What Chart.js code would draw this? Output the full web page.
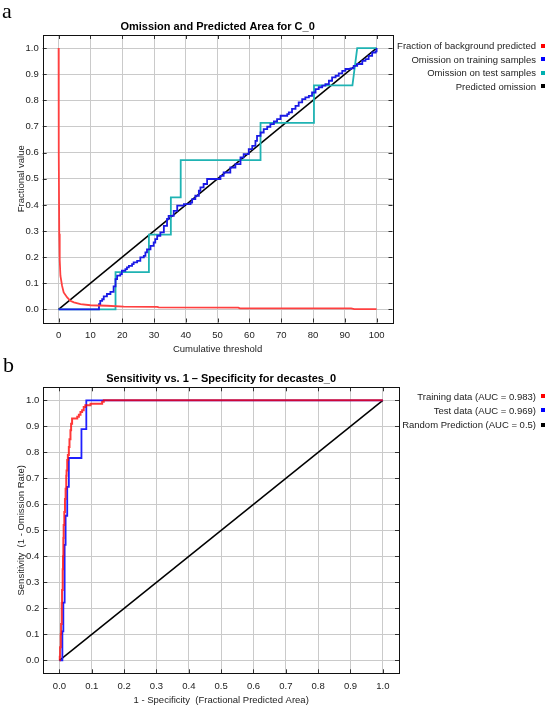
<!DOCTYPE html>
<html><head><meta charset="utf-8">
<script src="https://cdn.jsdelivr.net/npm/chart.js@4.4.1/dist/chart.umd.min.js"></script>
<style>
html,body{margin:0;padding:0;background:#fff;}
body{width:550px;height:710px;position:relative;overflow:hidden;font-family:"Liberation Sans",Arial,sans-serif;}
canvas{position:absolute;left:0;}
#c1{top:0}#c2{top:355px}
.panel{position:absolute;font-family:"Liberation Serif","Times New Roman",serif;font-size:22px;line-height:22px;color:#000;z-index:2;}
.leg{position:absolute;right:14px;font-size:9.5px;line-height:12px;color:#222;white-space:nowrap;font-family:"Liberation Sans",Arial,sans-serif;}
.sq{position:absolute;left:541px;width:4px;height:4px;}
</style></head><body>
<canvas id="c1" width="550" height="355"></canvas>
<canvas id="c2" width="550" height="355"></canvas>
<div class="panel" style="left:2px;top:0px">a</div>
<div class="panel" style="left:3px;top:354px">b</div>
<div id="legends"></div>
<script>
// ---------- Panel a: Omission and Predicted Area ----------
const xTicksA = [0,10,20,30,40,50,60,70,80,90,100];
const yTicks = [0,0.1,0.2,0.3,0.4,0.5,0.6,0.7,0.8,0.9,1.0];

const bgFracX = [0,0,0.1,0.2,0.3,0.4,0.57,1.1,1.6,2.7,3.7,4.8,6.9,10,15.2,20.5,31,31.5,56.5,57,92,93,100];
const bgFracY = [1.0,0.75,0.6,0.29,0.28,0.19,0.129,0.090,0.065,0.046,0.033,0.027,0.020,0.016,0.014,0.011,0.010,0.008,0.007,0.004,0.004,0.001,0.001];

const omTrainX = [0,12.6,12.7,13.1,13.7,14.2,15.2,16.3,17.3,17.9,18.4,19.4,19.9,21.0,21.5,22.1,23.1,23.6,24.7,25.7,26.8,27.3,27.8,28.9,29.9,30.4,31.0,32.0,33.1,34.1,34.6,36.2,37.3,39.4,41.5,42.0,43.0,44.1,44.6,45.6,46.7,49.3,50.9,51.9,54.0,55.6,57.2,58.2,59.8,60.9,61.9,62.4,63.5,64.5,65.6,66.6,67.7,68.7,69.8,71.9,72.4,73.4,74.5,75.5,76.6,77.6,78.7,79.7,80.8,81.8,82.9,83.9,85.0,86.0,87.1,88.1,89.2,90.2,91.8,92.8,93.9,95.5,96.5,97.5,98.6,99.7,100];
const omTrainY = [0,0,0.02,0.033,0.039,0.050,0.059,0.067,0.088,0.116,0.129,0.135,0.148,0.154,0.161,0.167,0.173,0.180,0.186,0.199,0.205,0.218,0.230,0.243,0.256,0.269,0.282,0.295,0.320,0.346,0.358,0.377,0.397,0.403,0.409,0.422,0.435,0.454,0.467,0.480,0.499,0.499,0.511,0.524,0.543,0.556,0.582,0.594,0.613,0.626,0.645,0.664,0.677,0.690,0.699,0.709,0.719,0.728,0.741,0.747,0.754,0.767,0.779,0.792,0.805,0.811,0.817,0.830,0.843,0.850,0.856,0.862,0.875,0.888,0.894,0.903,0.913,0.920,0.922,0.932,0.939,0.951,0.958,0.970,0.983,0.987,1.0];

const omTestX = [0,17.9,17.9,28.4,28.4,35.3,35.3,38.4,38.4,63.5,63.5,80.3,80.3,92.4,93.9,100];
const omTestY = [0,0,0.143,0.143,0.286,0.286,0.429,0.429,0.571,0.571,0.714,0.714,0.857,0.857,1.0,1.0];

const predOmX = [0,100];
const predOmY = [0,1];

const labelsA = ['Fraction of background predicted','Omission on training samples','Omission on test samples','Predicted omission'];

// ---------- Panel b: ROC ----------
const xTicksB = [0,0.1,0.2,0.3,0.4,0.5,0.6,0.7,0.8,0.9,1.0];

const rocTrainX = [0,0.001,0.002,0.004,0.005,0.007,0.008,0.010,0.011,0.012,0.013,0.015,0.017,0.019,0.021,0.022,0.024,0.026,0.029,0.031,0.034,0.036,0.039,0.055,0.060,0.065,0.070,0.075,0.080,0.096,0.132,0.137,1.0];
const rocTrainY = [0,0.014,0.05,0.10,0.14,0.22,0.27,0.35,0.40,0.47,0.52,0.57,0.62,0.66,0.71,0.73,0.77,0.79,0.82,0.85,0.885,0.91,0.93,0.937,0.944,0.955,0.962,0.974,0.981,0.987,0.994,1.0,1.0];

const rocTestX = [0,0.009,0.009,0.012,0.012,0.016,0.016,0.019,0.019,0.024,0.024,0.029,0.029,0.068,0.068,0.083,0.083,1.0];
const rocTestY = [0,0,0.111,0.111,0.222,0.222,0.444,0.444,0.556,0.556,0.667,0.667,0.778,0.778,0.889,0.889,1.0,1.0];

const randX = [0,1];
const randY = [0,1];

const labelsB = ['Training data (AUC = 0.983)','Test data (AUC = 0.969)','Random Prediction (AUC = 0.5)'];

// ---------- helpers ----------
const pts = (xs, ys) => xs.map((x, i) => ({x: x, y: ys[i]}));
const FONT = '"Liberation Sans", Arial, sans-serif';

const framePlugin = {
  id: 'frame',
  afterDraw(chart) {
    const {ctx, chartArea: a, scales: {x, y}} = chart;
    ctx.save();
    ctx.strokeStyle = '#333';
    ctx.lineWidth = 1;
    ctx.beginPath();
    x.ticks.forEach(t => {
      const p = Math.round(x.getPixelForValue(t.value)) + 0.5;
      ctx.moveTo(p, a.top); ctx.lineTo(p, a.top + 4);
      ctx.moveTo(p, a.bottom); ctx.lineTo(p, a.bottom - 4);
    });
    y.ticks.forEach(t => {
      const p = Math.round(y.getPixelForValue(t.value)) + 0.5;
      ctx.moveTo(a.left, p); ctx.lineTo(a.left + 4, p);
      ctx.moveTo(a.right, p); ctx.lineTo(a.right - 4, p);
    });
    ctx.stroke();
    ctx.strokeStyle = '#111';
    ctx.strokeRect(Math.round(a.left) + 0.5, Math.round(a.top) + 0.5, Math.round(a.right - a.left), Math.round(a.bottom - a.top));
    ctx.restore();
  }
};

function makeChart(id, cfg) {
  return new Chart(document.getElementById(id), {
    type: 'line',
    data: {datasets: cfg.datasets},
    options: {
      responsive: false,
      animation: false,
      events: [],
      layout: {padding: {left: 0, right: cfg.padRight, top: 0, bottom: 0}},
      plugins: {
        legend: {display: false},
        tooltip: {enabled: false},
        title: {
          display: true, text: cfg.title, fullSize: false, color: '#000',
          font: {family: FONT, size: 11, weight: 'bold', lineHeight: 1.2},
          padding: {top: cfg.titlePadTop, bottom: cfg.titlePadBottom}
        }
      },
      elements: {point: {radius: 0}, line: {tension: 0}},
      scales: {
        x: {
          type: 'linear', min: cfg.xMin, max: cfg.xMax,
          afterBuildTicks: s => { s.ticks = cfg.xTicks.map(v => ({value: v})); },
          afterFit: s => { s.height = cfg.xAxisHeight; },
          ticks: {color: '#222', font: {family: FONT, size: 9.5, lineHeight: 1.2}, padding: cfg.xTickPad, maxRotation: 0, autoSkip: false,
                  callback: cfg.xFmt},
          grid: {color: '#cacaca', lineWidth: 1, drawTicks: false},
          border: {display: false},
          title: {display: true, text: cfg.xTitle, color: '#222', font: {family: FONT, size: 9.5, lineHeight: 1.2}, padding: {top: 0, bottom: cfg.xTitlePadBottom}}
        },
        y: {
          type: 'linear', min: -0.05, max: 1.05,
          afterBuildTicks: s => { s.ticks = yTicks.map(v => ({value: v})); },
          afterFit: s => { s.width = cfg.yAxisWidth; },
          ticks: {color: '#222', font: {family: FONT, size: 9.5, lineHeight: 1.2}, padding: 4, autoSkip: false,
                  callback: v => v.toFixed(1)},
          grid: {color: '#cacaca', lineWidth: 1, drawTicks: false},
          border: {display: false},
          title: {display: true, text: cfg.yTitle, color: '#222', font: {family: FONT, size: 9.5, lineHeight: 1.2}, padding: {top: cfg.yTitlePadTop, bottom: 0}}
        }
      }
    },
    plugins: [framePlugin]
  });
}

const colorsA = ['#ff4040', '#1a1ae6', '#1fb3b3', '#000000'];
const squareA = ['#ff0000', '#0000ff', '#00b0b0', '#000000'];
makeChart('c1', {
  title: 'Omission and Predicted Area for C_0',
  datasets: [
    {label: labelsA[0], data: pts(bgFracX, bgFracY), borderColor: colorsA[0], borderWidth: 1.8},
    {label: labelsA[1], data: pts(omTrainX, omTrainY), borderColor: colorsA[1], borderWidth: 1.8, stepped: true},
    {label: labelsA[2], data: pts(omTestX, omTestY), borderColor: colorsA[2], borderWidth: 1.8},
    {label: labelsA[3], data: pts(predOmX, predOmY), borderColor: colorsA[3], borderWidth: 1.5}
  ],
  xMin: -5, xMax: 105, xTicks: xTicksA, xFmt: v => String(v),
  xTitle: 'Cumulative threshold', yTitle: 'Fractional value',
  padRight: 157.5, yAxisWidth: 42.7, xAxisHeight: 32.5,
  titlePadTop: 20.7, titlePadBottom: 1.1,
  xTickPad: 6.8, xTitlePadBottom: 0.3, yTitlePadTop: 15.3
});

const colorsB = ['rgba(255,0,0,0.78)', '#1f1fff', '#000000'];
const squareB = ['#ff0000', '#0000ff', '#000000'];
makeChart('c2', {
  title: 'Sensitivity vs. 1 \u2013 Specificity for decastes_0',
  datasets: [
    {label: labelsB[0], data: pts(rocTrainX, rocTrainY), borderColor: colorsB[0], borderWidth: 2, stepped: true},
    {label: labelsB[1], data: pts(rocTestX, rocTestY), borderColor: colorsB[1], borderWidth: 1.8},
    {label: labelsB[2], data: pts(randX, randY), borderColor: colorsB[2], borderWidth: 1.5}
  ],
  xMin: -0.05, xMax: 1.05, xTicks: xTicksB, xFmt: v => v.toFixed(1),
  xTitle: '1 - Specificity  (Fractional Predicted Area)', yTitle: 'Sensitivity  (1 - Omission Rate)',
  padRight: 151, yAxisWidth: 43.3, xAxisHeight: 36.7,
  titlePadTop: 17.4, titlePadBottom: 1.7,
  xTickPad: 7.7, xTitlePadBottom: 4.3, yTitlePadTop: 16.1
});

// ---------- HTML legends ----------
function addLegend(labels, colors, rowsY) {
  const host = document.getElementById('legends');
  labels.forEach((t, i) => {
    const d = document.createElement('div');
    d.className = 'leg';
    d.style.top = (rowsY[i] - 6) + 'px';
    d.textContent = t;
    host.appendChild(d);
    const s = document.createElement('div');
    s.className = 'sq';
    s.style.top = (rowsY[i] - 2.5) + 'px';
    s.style.background = colors[i];
    host.appendChild(s);
  });
}
addLegend(labelsA, squareA, [46, 59.5, 73, 86.7]);
addLegend(labelsB, squareB, [396.7, 410.7, 425]);
</script>
</body></html>
